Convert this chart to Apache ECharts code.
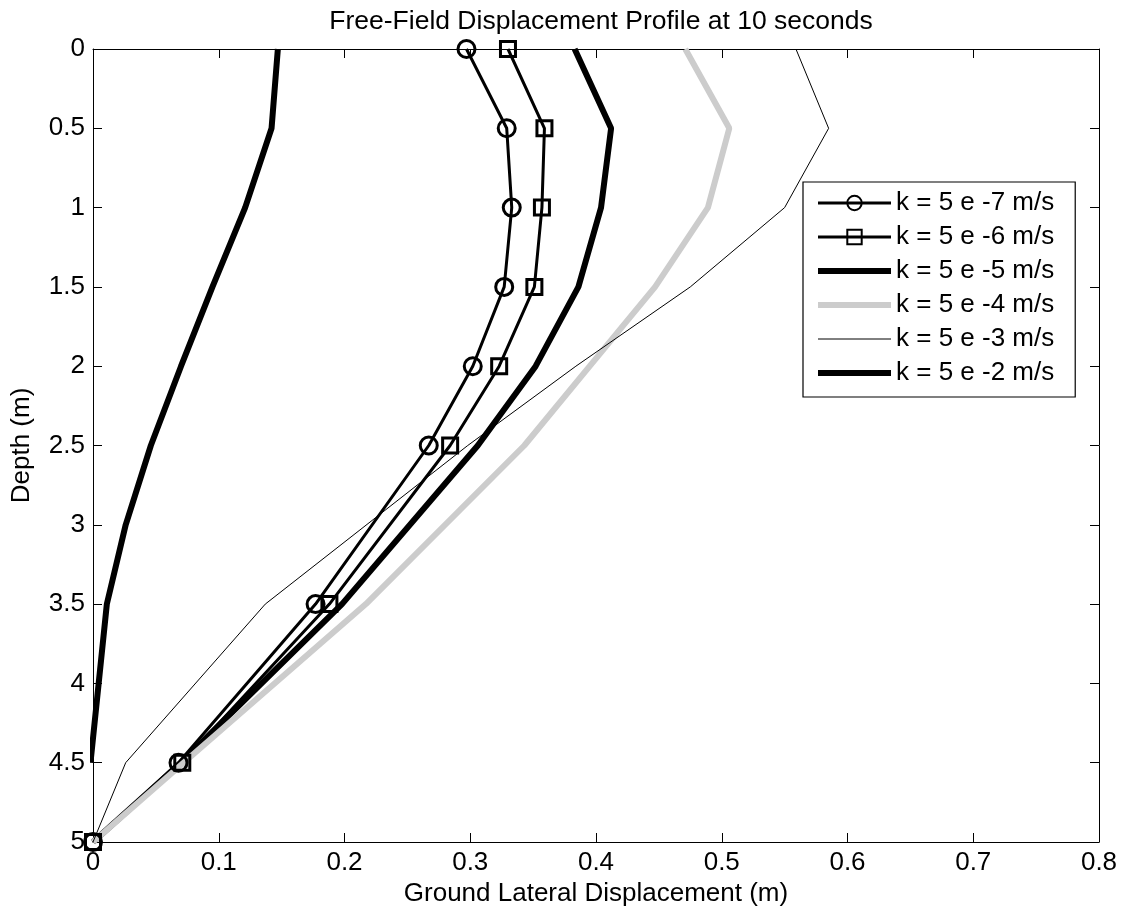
<!DOCTYPE html>
<html>
<head>
<meta charset="utf-8">
<script src="https://cdn.jsdelivr.net/npm/echarts@6/dist/echarts.min.js"></script>
<style>html,body{margin:0;padding:0;background:#fff;}#c{width:1130px;height:917px;}</style>
</head>
<body>
<div id="c"></div>
<script>
const depths = [0, 0.5, 1, 1.5, 2, 2.5, 3.5, 4.5, 5];
const depthsK2 = [0, 0.5, 1, 1.5, 2, 2.5, 3, 3.5, 4.5];
const k7 = [0.297, 0.329, 0.333, 0.327, 0.302, 0.267, 0.177, 0.068, 0];
const k6 = [0.330, 0.359, 0.357, 0.351, 0.323, 0.284, 0.188, 0.071, 0];
const k5 = [0.383, 0.412, 0.404, 0.386, 0.352, 0.306, 0.198, 0.070, 0];
const k4 = [0.471, 0.506, 0.489, 0.447, 0.395, 0.343, 0.217, 0.072, 0];
const k3 = [0.559, 0.585, 0.550, 0.475, 0.384, 0.298, 0.137, 0.026, 0];
const k2 = [0.147, 0.142, 0.121, 0.095, 0.070, 0.046, 0.026, 0.011, -0.002];
const names = ['k = 5 e -7 m/s', 'k = 5 e -6 m/s', 'k = 5 e -5 m/s', 'k = 5 e -4 m/s', 'k = 5 e -3 m/s', 'k = 5 e -2 m/s'];
const title = 'Free-Field Displacement Profile at 10 seconds';
const xName = 'Ground Lateral Displacement (m)';
const yName = 'Depth (m)';

const FONT = 'Liberation Sans, Arial, Helvetica, sans-serif';
const FS = 26;
const pairs = (xs, ds) => xs.map((v, i) => [v, ds[i]]);

const chart = echarts.init(document.getElementById('c'), null, {renderer: 'canvas'});
const lineSeries = (name, data, width, color, symbol, symSize, clip) => ({
  name: name,
  type: 'line',
  data: data,
  clip: !!clip,
  symbol: symbol || 'none',
  symbolSize: symSize || 0,
  showSymbol: !!symbol,
  lineStyle: {width: width, color: color},
  itemStyle: symbol
    ? {color: 'rgba(255,255,255,0)', borderColor: color, borderWidth: 3}
    : {color: 'rgba(255,255,255,0)', borderColor: 'rgba(255,255,255,0)', borderWidth: 0},
  emphasis: {disabled: true},
  animation: false
});

const axisCommon = {
  axisLine: {show: true, onZero: false, lineStyle: {color: '#000', width: 1}},
  axisTick: {show: true, inside: true, length: 9, lineStyle: {color: '#000', width: 1}},
  splitLine: {show: false}
};

chart.setOption({
  backgroundColor: '#fff',
  animation: false,
  title: {
    text: title, left: 596, top: 3, textAlign: 'center',
    textStyle: {fontFamily: FONT, fontSize: 26.5, fontWeight: 'normal', color: '#000'}
  },
  legend: {
    left: 803, top: 182,
    orient: 'vertical',
    backgroundColor: '#fff',
    borderColor: '#000', borderWidth: 1.2, borderRadius: 0,
    padding: [8, 21, 11, 12],
    itemGap: 8,
    itemWidth: 73, itemHeight: 18,
    lineStyle: {width: 'inherit'},
    textStyle: {fontFamily: FONT, fontSize: FS, lineHeight: 26, color: '#000', padding: [0, 0, 0, 0]},
    data: names
  },
  grid: {left: 93, right: 31, top: 49, bottom: 75, containLabel: false},
  xAxis: [Object.assign({
    type: 'value', min: 0, max: 0.8, interval: 0.1, position: 'bottom',
    name: xName, nameLocation: 'middle', nameGap: 38,
    nameTextStyle: {fontFamily: FONT, fontSize: FS, color: '#000'},
    axisLabel: {fontFamily: FONT, fontSize: FS, color: '#000', margin: 8,
      formatter: v => String(Math.round(v * 10) / 10)}
  }, axisCommon), Object.assign({
    type: 'value', min: 0, max: 0.8, interval: 0.1, position: 'top',
    axisLabel: {show: false}
  }, axisCommon)],
  yAxis: [Object.assign({
    type: 'value', min: 0, max: 5, interval: 0.5, inverse: true, position: 'left',
    name: yName, nameLocation: 'middle', nameGap: 58, nameRotate: 90,
    nameTextStyle: {fontFamily: FONT, fontSize: FS, color: '#000'},
    axisLabel: {fontFamily: FONT, fontSize: FS, color: '#000', margin: 8}
  }, axisCommon), Object.assign({
    type: 'value', min: 0, max: 5, interval: 0.5, inverse: true, position: 'right',
    axisLabel: {show: false}
  }, axisCommon)],
  series: [
    lineSeries(names[0], pairs(k7, depths), 3, '#000', 'circle', 17),
    lineSeries(names[1], pairs(k6, depths), 3, '#000', 'rect', 15),
    lineSeries(names[2], pairs(k5, depths), 6, '#000'),
    lineSeries(names[3], pairs(k4, depths), 6, '#cccccc'),
    lineSeries(names[4], pairs(k3, depths), 1, '#000'),
    lineSeries(names[5], pairs(k2, depthsK2), 6, '#000', null, 0, true)
  ]
});
</script>
</body>
</html>
